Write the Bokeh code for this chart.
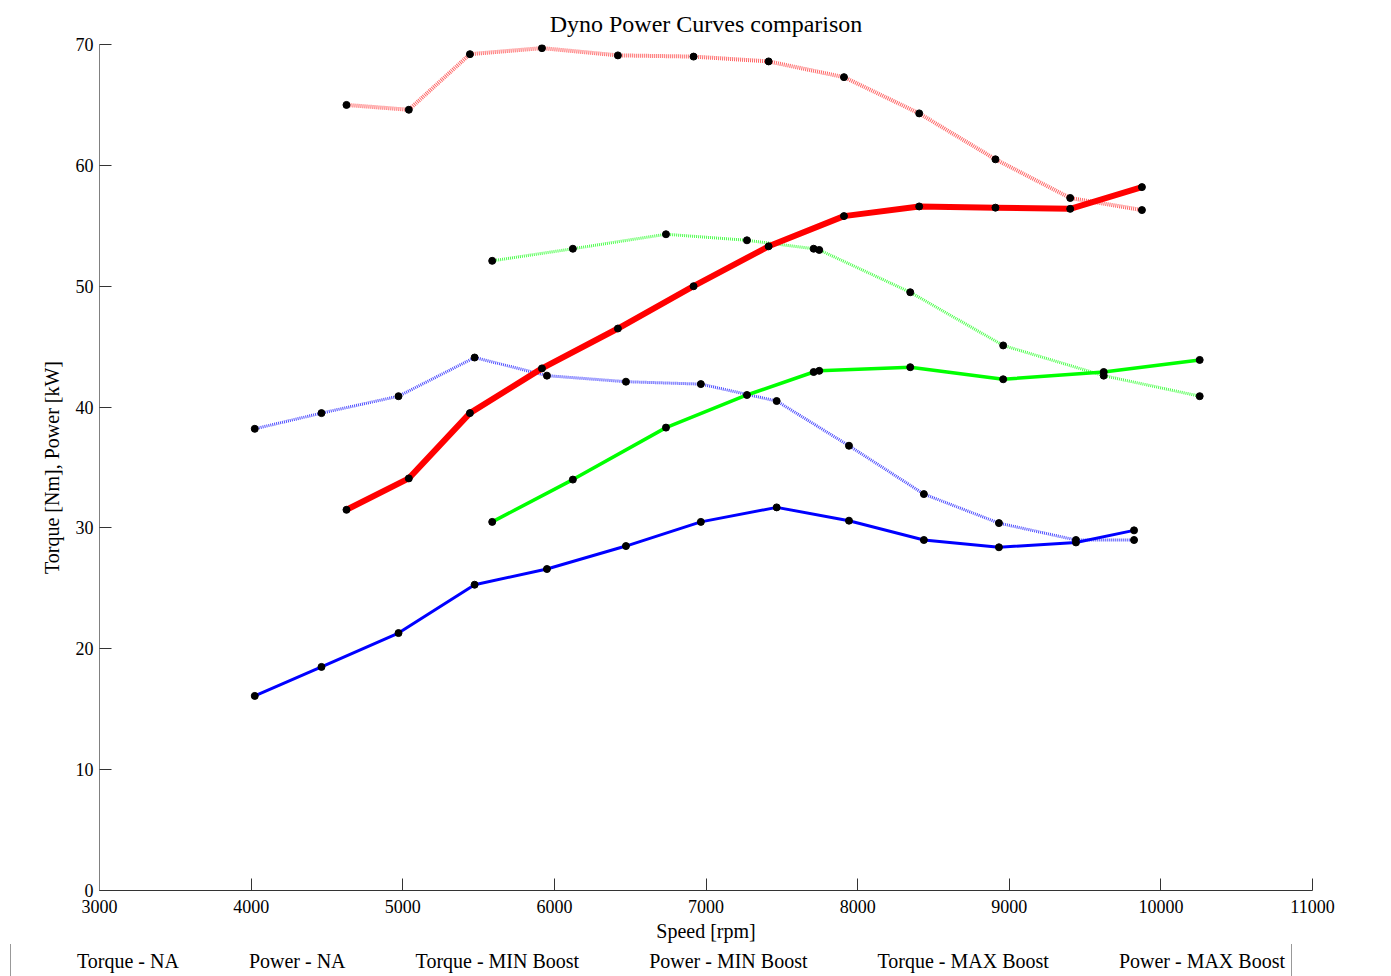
from bokeh.plotting import figure
from bokeh.models import Legend, LegendItem, FixedTicker, Range1d
from bokeh.embed import file_html
from bokeh.resources import INLINE

# Engine speed [rpm] per test run
rpm_na = [4024, 4464, 4972, 5474, 5951, 6472, 6966, 7466, 7943, 8437, 8932, 9440, 9823]
rpm_min = [5590, 6122, 6736, 7270, 7710, 7747, 8347, 8960, 9623, 10256]
rpm_max = [4629, 5040, 5443, 5918, 6419, 6918, 7413, 7910, 8406, 8909, 9402, 9875]

# Torque [Nm] and power [kW]
torque_na = [38.2, 39.5, 40.9, 44.1, 42.6, 42.1, 41.9, 40.5, 36.8, 32.8, 30.4, 29.0, 29.0]
power_na = [16.1, 18.5, 21.3, 25.3, 26.6, 28.5, 30.5, 31.7, 30.6, 29.0, 28.4, 28.8, 29.8]
torque_min = [52.1, 53.1, 54.3, 53.8, 53.1, 53.0, 49.5, 45.1, 42.6, 40.9]
power_min = [30.5, 34.0, 38.3, 41.0, 42.9, 43.0, 43.3, 42.3, 42.9, 43.9]
torque_max = [65.0, 64.6, 69.2, 69.7, 69.1, 69.0, 68.6, 67.3, 64.3, 60.5, 57.3, 56.3]
power_max = [31.5, 34.1, 39.5, 43.2, 46.5, 50.0, 53.3, 55.8, 56.6, 56.5, 56.4, 58.2]

x_ticks = [3000, 4000, 5000, 6000, 7000, 8000, 9000, 10000, 11000]
y_ticks = [0, 10, 20, 30, 40, 50, 60, 70]

FONT = "Liberation Serif"

p = figure(
    frame_width=1213, frame_height=846,
    output_backend="svg", toolbar_location=None,
    x_range=Range1d(3000, 11000), y_range=Range1d(0, 70),
    min_border_left=99, min_border_right=79, min_border_top=0, min_border_bottom=52,
    title="Dyno Power Curves comparison",
)
p.outline_line_color = None
p.xgrid.visible = False
p.ygrid.visible = False

p.title.align = "center"
p.title.text_font = FONT
p.title.text_font_size = "24px"
p.title.text_font_style = "normal"
p.title.text_color = "black"
p.title.standoff = 16

for ax, ticks in ((p.xaxis, x_ticks), (p.yaxis, y_ticks)):
    ax.ticker = FixedTicker(ticks=ticks)
    ax.major_label_text_font = FONT
    ax.major_label_text_font_size = "18px"
    ax.major_label_text_color = "black"
    ax.axis_label_text_font = FONT
    ax.axis_label_text_font_size = "20px"
    ax.axis_label_text_font_style = "normal"
    ax.axis_label_text_color = "black"
    ax.major_tick_in = 12
    ax.major_tick_out = 0
    ax.minor_tick_line_color = None
    ax.major_tick_line_color = "#333333"

p.xaxis.axis_label = "Speed [rpm]"
p.yaxis.axis_label = "Torque [Nm], Power [kW]"
p.xaxis.axis_line_color = "#333333"
p.yaxis.axis_line_color = "#808080"
p.xaxis.major_label_standoff = 9
p.xaxis.axis_label_standoff = 4
p.yaxis.major_label_standoff = 6
p.yaxis.axis_label_standoff = 10
p.yaxis.major_label_orientation = "horizontal"

series = [
    ("Torque - NA", rpm_na, torque_na, "#0000ff", 3, "1 1", 0.7),
    ("Power - NA", rpm_na, power_na, "#0000ff", 3, "solid", 1.0),
    ("Torque - MIN Boost", rpm_min, torque_min, "#00ff00", 3, "1 1", 0.7),
    ("Power - MIN Boost", rpm_min, power_min, "#00ff00", 3.5, "solid", 1.0),
    ("Torque - MAX Boost", rpm_max, torque_max, "#ff0000", 4, "1 1", 0.6),
    ("Power - MAX Boost", rpm_max, power_max, "#ff0000", 6, "solid", 1.0),
]

for label, xs, ys, color, lw, dash, alpha in series:
    p.line(xs, ys, line_color=color, line_width=lw, line_dash=dash, line_alpha=alpha)
    p.scatter(xs, ys, size=7, fill_color="black", line_color="black")

# Full-width strip under the chart that carries the horizontal legend
strip = figure(
    width=1391, height=60,
    output_backend="svg", toolbar_location=None,
    x_axis_type=None, y_axis_type=None,
    min_border=0,
)
strip.outline_line_color = None
strip.xgrid.visible = False
strip.ygrid.visible = False

items = []
for label, xs, ys, color, lw, dash, alpha in series:
    key_line = strip.line([], [], line_color=color, line_width=lw, line_dash=dash, line_alpha=alpha)
    key_dot = strip.scatter([], [], size=7, fill_color="black", line_color="black")
    items.append(LegendItem(label=label, renderers=[key_line, key_dot]))

legend = Legend(
    items=items, orientation="horizontal", location=(10, 24),
    label_text_font=FONT, label_text_font_size="20px", label_text_color="black",
    glyph_width=55, glyph_height=20, label_standoff=5, spacing=10,
    padding=6, margin=0,
    border_line_color="#333333", border_line_width=1,
    label_height=20,
)
strip.add_layout(legend, "center")

open("out.html", "w").write(file_html([p, strip], INLINE))
